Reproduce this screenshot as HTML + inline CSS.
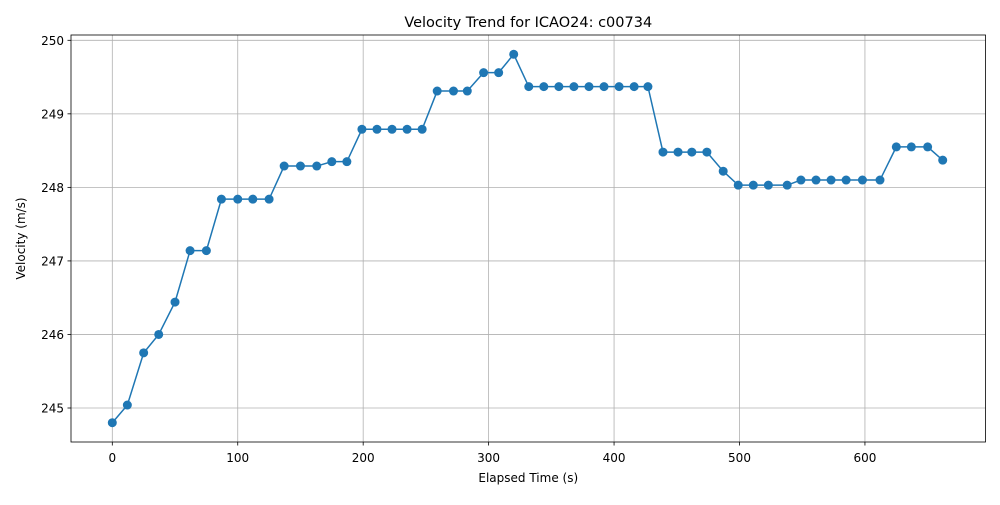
<!DOCTYPE html>
<html><head><meta charset="utf-8"><style>
body{margin:0;background:#fff;font-family:"Liberation Sans","DejaVu Sans",sans-serif}
</style></head><body>
<svg id="chart" width="1000" height="500" xmlns="http://www.w3.org/2000/svg" font-family="DejaVu Sans, Liberation Sans, sans-serif"></svg>
<script>
const times=[0,12,25,37,50,62,75,87,100,112,125,137,150,163,175,187,199,211,223,235,247,259,272,283,296,308,320,332,344,356,368,380,392,404,416,427,439,451,462,474,487,499,511,523,538,549,561,573,585,598,612,625,637,650,662];
const velocities=[244.80,245.04,245.75,246.0,246.44,247.14,247.14,247.84,247.84,247.84,247.84,248.29,248.29,248.29,248.35,248.35,248.79,248.79,248.79,248.79,248.79,249.31,249.31,249.31,249.56,249.56,249.81,249.37,249.37,249.37,249.37,249.37,249.37,249.37,249.37,249.37,248.48,248.48,248.48,248.48,248.22,248.03,248.03,248.03,248.03,248.10,248.10,248.10,248.10,248.10,248.10,248.55,248.55,248.55,248.37];
const xTicks=[0,100,200,300,400,500,600];
const yTicks=[245,246,247,248,249,250];
const L=71,R=985.5,T=35,B=442;
const X=v=>112.3+v*1.2544;
const Y=v=>408-(v-245)*73.54;
const svg=document.getElementById('chart');
const NS='http://www.w3.org/2000/svg';
function mk(t,a,p){const e=document.createElementNS(NS,t);for(const k in a)e.setAttribute(k,a[k]);(p||svg).appendChild(e);return e;}
xTicks.forEach(v=>{
 const g=mk('line',{x1:X(v),x2:X(v),y1:T,y2:B,stroke:'#b0b0b0','stroke-width':0.8});
 
 
 mk('line',{x1:X(v),x2:X(v),y1:B,y2:B+3.5,stroke:'#000','stroke-width':0.8});
 const t=mk('text',{x:X(v),y:B+20,'text-anchor':'middle','font-size':12,fill:'#000'});t.textContent=v;
 
 
});
yTicks.forEach(v=>{
 const g=mk('line',{x1:L,x2:R,y1:Y(v),y2:Y(v),stroke:'#b0b0b0','stroke-width':0.8});
 
 
 mk('line',{x1:L-3.5,x2:L,y1:Y(v),y2:Y(v),stroke:'#000','stroke-width':0.8});
 const t=mk('text',{x:L-7,y:Y(v)+4.5,'text-anchor':'end','font-size':12,fill:'#000'});t.textContent=v;
 
 
});
const line=mk('polyline',{points:times.map((t,i)=>X(t)+','+Y(velocities[i])).join(' '),fill:'none',stroke:'#1f77b4','stroke-width':1.5});


times.forEach((t,i)=>{
 const c=mk('circle',{cx:X(t),cy:Y(velocities[i]),r:4.5,fill:'#1f77b4'});
 
 
});
const f=mk('rect',{x:L,y:T,width:R-L,height:B-T,fill:'none',stroke:'#000','stroke-width':0.8});


const ti=mk('text',{x:(L+R)/2,y:27,'text-anchor':'middle','font-size':14.5,fill:'#000'});ti.textContent='Velocity Trend for ICAO24: c00734';


const xl=mk('text',{x:(L+R)/2,y:482,'text-anchor':'middle','font-size':12,fill:'#000'});xl.textContent='Elapsed Time (s)';


const yl=mk('text',{x:0,y:0,'text-anchor':'middle','font-size':12,fill:'#000',transform:'translate(25,'+((T+B)/2)+') rotate(-90)'});yl.textContent='Velocity (m/s)';


</script>
</body></html>
